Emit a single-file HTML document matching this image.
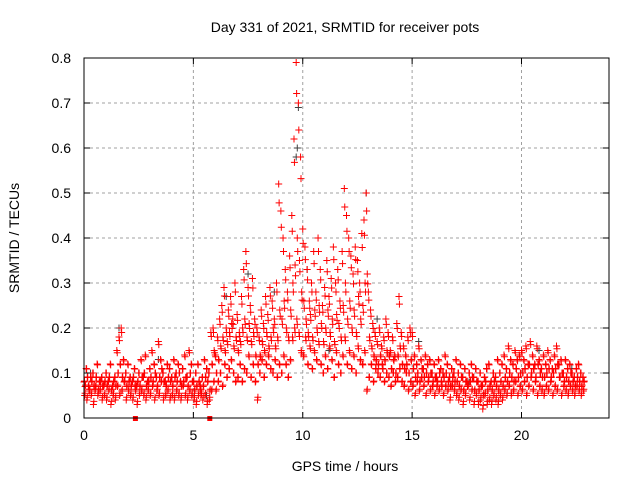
<!DOCTYPE html>
<html><head><meta charset="utf-8"><style>
body{margin:0;background:#fff}
svg{display:block;font-family:"Liberation Sans",sans-serif}
</style></head><body>
<svg id="chart" width="640" height="480" viewBox="0 0 640 480">
<rect width="640" height="480" fill="#fff"/>
<text x="345" y="32" text-anchor="middle" font-size="14">Day 331 of 2021, SRMTID for receiver pots</text>
<text transform="translate(19,238) rotate(-90)" text-anchor="middle" font-size="14">SRMTID / TECUs</text>
<text x="345" y="471" text-anchor="middle" font-size="14">GPS time / hours</text>
<g id="grid"></g><g id="marks"></g><g id="axes"></g>
</svg>
<script>
const xTicks=[0,5,10,15,20];
const yTicks=[0,0.1,0.2,0.3,0.4,0.5,0.6,0.7,0.8];
const yTickLabels=["0","0.1","0.2","0.3","0.4","0.5","0.6","0.7","0.8"];
const startHour=0, stepHour=0.1;
const redHigh=[.08,.11,.07,.09,.10,.06,.12,.08,.09,.07,.10,.08,.12,.07,.09,.15,.18,.20,.13,.10,.12,.09,.08,.11,.07,.10,.13,.09,.14,.08,.11,.15,.12,.09,.17,.13,.10,.08,.12,.11,.09,.13,.10,.12,.08,.11,.14,.09,.15,.12,.08,.10,.12,.07,.09,.13,.11,.10,.19,.20,.14,.18,.22,.25,.29,.20,.24,.27,.22,.30,.23,.19,.27,.33,.37,.29,.25,.31,.22,.20,.18,.24,.21,.27,.23,.29,.26,.22,.30,.52,.46,.40,.33,.28,.36,.45,.62,.79,.70,.58,.42,.38,.33,.26,.30,.37,.28,.40,.33,.25,.29,.35,.27,.31,.38,.30,.33,.26,.37,.51,.45,.40,.36,.32,.38,.35,.30,.41,.44,.50,.28,.24,.21,.19,.17,.20,.16,.18,.22,.19,.15,.18,.14,.21,.27,.19,.16,.14,.18,.20,.19,.14,.12,.16,.13,.11,.14,.12,.13,.10,.12,.09,.13,.11,.10,.14,.12,.09,.11,.10,.13,.10,.12,.09,.11,.08,.10,.12,.09,.11,.08,.10,.07,.09,.11,.12,.08,.10,.09,.13,.10,.12,.14,.11,.16,.13,.12,.15,.13,.14,.15,.13,.16,.12,.17,.14,.12,.16,.13,.11,.14,.12,.15,.13,.11,.14,.16,.12,.13,.10,.13,.11,.12,.10,.09,.11,.12,.10,.09];
const redLow=[.05,.04,.06,.05,.03,.07,.05,.06,.04,.05,.04,.06,.03,.05,.04,.07,.05,.06,.08,.04,.06,.05,.04,.07,.03,.05,.06,.05,.04,.06,.05,.07,.04,.06,.05,.08,.04,.05,.06,.04,.05,.04,.06,.05,.04,.07,.05,.04,.06,.05,.04,.03,.05,.06,.04,.05,.03,.04,.06,.08,.06,.08,.10,.07,.12,.09,.11,.13,.10,.08,.09,.12,.08,.11,.10,.14,.09,.12,.08,.04,.10,.13,.09,.12,.14,.11,.10,.13,.09,.12,.10,.14,.12,.09,.13,.18,.20,.22,.19,.15,.14,.18,.12,.16,.11,.15,.13,.17,.12,.10,.14,.11,.16,.13,.09,.15,.12,.10,.14,.18,.12,.15,.11,.14,.10,.16,.13,.12,.15,.06,.09,.12,.08,.11,.10,.09,.12,.08,.10,.09,.07,.10,.08,.09,.11,.08,.07,.10,.06,.08,.07,.05,.08,.06,.09,.07,.05,.08,.06,.07,.05,.07,.06,.08,.05,.07,.06,.04,.07,.06,.05,.04,.06,.03,.05,.07,.04,.06,.03,.05,.03,.04,.02,.05,.03,.04,.03,.05,.04,.03,.05,.04,.06,.05,.07,.05,.06,.08,.05,.07,.06,.08,.05,.07,.09,.06,.08,.05,.07,.06,.05,.07,.06,.08,.05,.07,.06,.09,.05,.07,.06,.05,.07,.06,.05,.07,.06,.05,.06];
const redMid=[.07,.09,.06,.08,.07,.09,.06,.08,.07,.08,.07,.09,.06,.08,.07,.10,.12,.09,.08,.07,.08,.07,.09,.06,.08,.07,.09,.10,.07,.08,.09,.08,.10,.07,.09,.11,.08,.07,.09,.08,.07,.09,.08,.10,.07,.08,.09,.07,.10,.08,.06,.07,.08,.05,.07,.09,.08,.06,.12,.15,.10,.13,.16,.18,.15,.17,.19,.21,.16,.18,.15,.17,.20,.22,.18,.21,.17,.19,.14,.12,.14,.17,.15,.19,.16,.18,.20,.16,.18,.24,.22,.26,.20,.18,.24,.30,.34,.40,.35,.28,.26,.22,.19,.23,.18,.24,.20,.25,.21,.17,.20,.24,.19,.22,.17,.23,.21,.18,.25,.30,.22,.26,.20,.24,.19,.27,.22,.25,.30,.32,.18,.16,.14,.13,.12,.14,.11,.13,.15,.14,.11,.13,.10,.14,.16,.12,.11,.12,.10,.13,.11,.09,.10,.08,.11,.09,.10,.09,.10,.08,.09,.08,.10,.07,.09,.10,.08,.07,.09,.08,.08,.07,.09,.06,.08,.07,.08,.09,.06,.08,.06,.07,.05,.08,.06,.07,.06,.08,.07,.06,.08,.07,.09,.08,.10,.09,.08,.11,.09,.10,.10,.11,.09,.12,.10,.11,.09,.12,.10,.09,.09,.10,.11,.09,.10,.11,.12,.09,.10,.08,.09,.08,.10,.08,.07,.09,.08,.07,.08];
const grayHours=[0.3,1.6,3.4,5.6,6.5,7.5,8.7,9.7,9.8,9.75,10.2,11.2,12.9,13.4,15.3,17.6,20.8,22.3];
const grayValues=[0.10,0.20,0.13,0.05,0.27,0.32,0.28,0.58,0.69,0.60,0.33,0.15,0.50,0.22,0.17,0.08,0.15,0.11];
const squareHours=[2.35,5.75];

const X0=84,X1=609,Y0=418,Y1=58,XMAX=24,YMAX=0.8;
const xs=v=>X0+(v/XMAX)*(X1-X0);
const ys=v=>Y0-(v/YMAX)*(Y0-Y1);
const NS="http://www.w3.org/2000/svg";
function mk(tag,attrs,parent){const e=document.createElementNS(NS,tag);for(const k in attrs)e.setAttribute(k,attrs[k]);parent.appendChild(e);return e;}
const grid=document.getElementById('grid'),marks=document.getElementById('marks'),axes=document.getElementById('axes');
xTicks.forEach(t=>{if(t>0){const l=mk('line',{x1:xs(t),x2:xs(t),y1:Y1,y2:Y0,stroke:'#a0a0a0','stroke-dasharray':'3,3'},grid);

}
mk('line',{x1:xs(t),x2:xs(t),y1:Y0,y2:Y0-6,stroke:'#000'},axes);mk('line',{x1:xs(t),x2:xs(t),y1:Y1,y2:Y1+6,stroke:'#000'},axes);
const tx=mk('text',{x:xs(t),y:Y0+22,'text-anchor':'middle','font-size':14},axes);tx.textContent=String(t);

});
yTicks.forEach((t,i)=>{if(t>0&&t<YMAX){const l=mk('line',{x1:X0,x2:X1,y1:ys(t),y2:ys(t),stroke:'#a0a0a0','stroke-dasharray':'3,3'},grid);

}
mk('line',{x1:X0,x2:X0+6,y1:ys(t),y2:ys(t),stroke:'#000'},axes);mk('line',{x1:X1,x2:X1-6,y1:ys(t),y2:ys(t),stroke:'#000'},axes);
const tx=mk('text',{x:X0-13,y:ys(t)+5,'text-anchor':'end','font-size':14},axes);tx.textContent=yTickLabels[i];

});
const frame=mk('rect',{x:X0,y:Y1,width:X1-X0,height:Y0-Y1,fill:'none',stroke:'#000'},axes);


function plus(h,v,color,name){const x=xs(h),y=ys(v);
const p=mk('path',{d:`M${x-3.5},${y}H${x+3.5}M${x},${y-3.5}V${y+3.5}`,stroke:color,'stroke-width':1,fill:'none'},marks);

}
grayHours.forEach((h,i)=>plus(h,grayValues[i],'#404040','gray-point'));
[redHigh,redLow,redMid].forEach((arr,k)=>arr.forEach((v,i)=>{
const h=startHour+i*stepHour+(k===2?0.05:(k===1?0.03:0));
plus(h,v,'#ff0000','red-point');
plus(h+0.02,v*0.9+0.01,'#ff0000','red-point');}));
squareHours.forEach(h=>{const r=mk('rect',{x:xs(h)-2.5,y:Y0-2,width:5,height:5,fill:'#ff0000'},marks);

});
</script>
</body></html>
